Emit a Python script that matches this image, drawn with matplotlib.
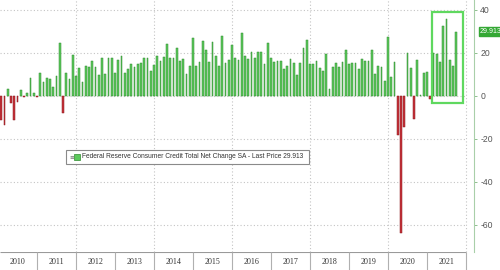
import numpy as np
import matplotlib
matplotlib.use("Agg")
import matplotlib.pyplot as plt
from matplotlib.patches import Rectangle

# ---- data (monthly, Jan 2010 .. Sep 2021), USD bn ----
years = list(range(2010, 2022))
start_year = 2010
values = [
    # 2010
    -11.0, -13.5, 3.1, -3.3, -11.0, -2.6, 2.8, -0.5, 1.5, 8.2, 1.2, -0.5,
    # 2011
    10.5, 6.7, 8.2, 7.8, 4.0, 9.3, 24.5, -8.0, 10.9, 7.8, 19.0, 9.3,
    # 2012
    12.9, 6.7, 14.0, 13.3, 16.4, 13.3, 9.8, 17.5, 10.2, 17.5, 17.5, 10.5,
    # 2013
    16.7, 18.8, 10.5, 12.4, 14.9, 13.6, 14.7, 15.5, 17.5, 17.5, 11.8, 14.4,
    # 2014
    18.6, 16.4, 18.3, 24.2, 17.8, 17.8, 22.2, 16.3, 17.0, 10.1, 14.0, 27.1,
    # 2015
    14.0, 15.7, 25.6, 21.4, 16.0, 25.3, 18.6, 14.1, 27.9, 15.5, 16.7, 23.7,
    # 2016
    17.5, 16.7, 29.5, 18.6, 17.0, 20.6, 17.8, 20.6, 20.6, 14.9, 24.8, 17.8,
    # 2017
    15.7, 16.3, 16.3, 12.4, 14.0, 17.2, 15.2, 9.8, 15.2, 22.2, 26.0, 14.9,
    # 2018
    14.9, 16.4, 12.9, 11.6, 19.5, 3.1, 13.6, 15.5, 13.6, 16.0, 21.4, 14.9,
    # 2019
    15.2, 15.2, 12.6, 17.0, 16.3, 16.4, 21.4, 10.1, 14.1, 13.3, 7.1, 27.6,
    # 2020
    9.0, 16.0, -18.1, -63.6, -14.6, 20.2, 13.2, -10.9, 16.7, 0.4, 10.9, 11.2,
    # 2021
    -1.5, 20.2, 19.5, 16.0, 32.7, 35.7, 16.7, 14.0, 29.913,
]
last_price = 29.913
yticks = [40, 20, 0, -20, -40, -60]
series_label = "Federal Reserve Consumer Credit Total Net Change SA - Last Price 29.913"

# ---- figure ----
W, H = 500, 270
fig = plt.figure(figsize=(W / 100, H / 100), dpi=100)
fig.patch.set_facecolor("white")

# pixel mapping: bar i at x_px = 1.25 + 3.25*i
x0_px, dx_px = 1.25, 3.25
def px_to_i(px):
    return (px - x0_px) / dx_px

ax_right_px = 474
xlim = (px_to_i(0), px_to_i(ax_right_px))
plot_bottom_px = 252
ax = fig.add_axes([0, (H - plot_bottom_px) / H, ax_right_px / W, plot_bottom_px / H])

vals = np.array(values)
x = np.arange(len(vals))
green_face, green_edge = "#5dc95d", "#2e8a2e"
red_face, red_edge = "#c8323a", "#8a1a1f"
faces = [green_face if v >= 0 else red_face for v in vals]
edges = [green_edge if v >= 0 else red_edge for v in vals]
ax.bar(x, vals, width=0.6, color=faces, edgecolor=edges, linewidth=0.35, zorder=3)

ax.set_xlim(*xlim)
ax.set_ylim(-72.56, 44.65)

# year boundaries (month index of December of previous year)
boundaries = [12 * (y - start_year) - 1 for y in years + [years[-1] + 1]]
grid_right = boundaries[-1]

# horizontal dotted grid
ax.hlines(yticks, xlim[0], grid_right, colors="#c4c4c4", linestyles=(0, (1, 2)),
          linewidth=0.8, zorder=1)
# vertical dotted grid every two years
for b in boundaries[2::2]:
    ax.axvline(b, color="#c4c4c4", linestyle=(0, (1, 2)), linewidth=0.8, zorder=1)

for s in ["top", "left", "bottom"]:
    ax.spines[s].set_visible(False)
ax.spines["right"].set_color("#a9cfa9")
ax.spines["right"].set_linewidth(0.8)
ax.set_xticks([])
ax.yaxis.tick_right()
ax.set_yticks(yticks)
ax.set_yticklabels([str(t) for t in yticks])
ax.tick_params(axis="y", labelsize=6.2, labelcolor="#555555", color="#8fbf8f",
               length=2.5, width=0.7, pad=2)
for lab in ax.get_yticklabels():
    lab.set_fontfamily("Liberation Sans")

# highlight rectangle around 2021 bars
r0, r1 = px_to_i(431.7), px_to_i(462.7)
ax.add_patch(Rectangle((r0, -3.1), r1 - r0, 42.0, fill=False,
                       edgecolor="#5fd85f", linewidth=1.6, zorder=4))

# last price tag
ax.annotate(f"{last_price:.3f}", xy=(1.0, last_price), xycoords=("axes fraction", "data"),
            xytext=(4, 0), textcoords="offset points", ha="left", va="center",
            fontsize=5, color="white", family="Liberation Sans",
            bbox=dict(boxstyle="square,pad=0.15", facecolor="#34a834", edgecolor="#34a834"),
            annotation_clip=False)

# date strip
sax = fig.add_axes([0, 0, ax_right_px / W, (H - plot_bottom_px) / H])
sax.set_xlim(*xlim)
sax.set_ylim(0, 1)
sax.axis("off")
sax.hlines(1.0, xlim[0], grid_right, colors="#9a9a9a", linewidth=0.8)
for b in boundaries:
    sax.vlines(b, 0, 1, colors="#b0b0b0", linewidth=0.8)
for y in years:
    c = 12 * (y - start_year) + 5
    sax.text(c, 0.45, str(y), ha="center", va="center", fontsize=5.8,
             family="Liberation Serif", color="#333333")

# legend box
lx0, ly0, lx1, ly1 = 66, 150, 309, 164
fig.patches.append(Rectangle((lx0 / W, 1 - ly1 / H), (lx1 - lx0) / W, (ly1 - ly0) / H,
                             transform=fig.transFigure, facecolor="white",
                             edgecolor="#8a8a8a", linewidth=0.8, zorder=5))
ymid = 1 - ((ly0 + ly1) / 2) / H
fig.text(69 / W, ymid, "≡", fontsize=4, color="#666666", va="center", ha="left", zorder=6)
fig.patches.append(Rectangle((74 / W, ymid - 3 / H), 6 / W, 6 / H, transform=fig.transFigure,
                             facecolor=green_face, edgecolor=green_edge, linewidth=0.5, zorder=6))
fig.text(82 / W, ymid, series_label, fontsize=4.8, family="Liberation Sans",
         color="#333333", va="center", ha="left", zorder=6)

fig.savefig("out.png", dpi=100, facecolor="white")
